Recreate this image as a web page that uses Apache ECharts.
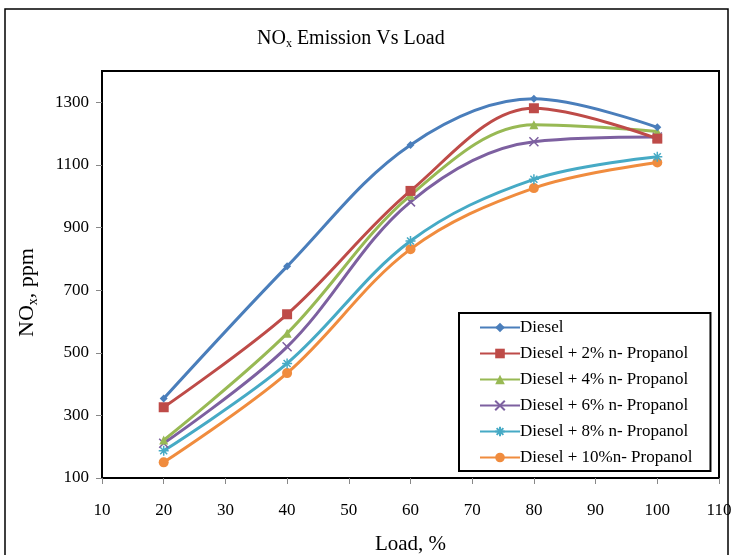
<!DOCTYPE html>
<html>
<head>
<meta charset="utf-8">
<script src="https://cdn.jsdelivr.net/npm/echarts@6/dist/echarts.min.js"></script>
<style>
  html, body { margin: 0; padding: 0; background: #fff; }
  #chart { width: 732px; height: 555px; }
</style>
</head>
<body>
<div id="chart"></div>
<script>
const loads = [20, 40, 60, 80, 100];
const seriesNames = ['Diesel', 'Diesel + 2% n- Propanol', 'Diesel + 4% n- Propanol', 'Diesel + 6% n- Propanol', 'Diesel + 8% n- Propanol', 'Diesel + 10%n- Propanol'];
const diesel = [354, 776, 1164, 1311, 1220];
const p2 = [326, 623, 1017, 1281, 1184];
const p4 = [221, 562, 1003, 1228, 1207];
const p6 = [211, 519, 982, 1174, 1189];
const p8 = [187, 466, 857, 1054, 1126];
const p10 = [150, 435, 831, 1026, 1108];
const yTicks = [100, 1400, 200];
const xTicks = [10, 110, 10];

const allValues = [diesel, p2, p4, p6, p8, p10];
const colors = ['#4a7ebb', '#be4b48', '#98b954', '#7d60a0', '#46aac5', '#f08c3e'];
const symbols = [
    'diamond',
    'rect',
    'triangle',
    'path://M-4,-4L4,4M-4,4L4,-4',
    'path://M0,-5L0,5M-5,0L5,0M-3.5,-3.5L3.5,3.5M-3.5,3.5L3.5,-3.5',
    'circle'
];
const sizes = [8, 10, 9, 9, 10, 10];
const serif = 'Liberation Serif';

const mychart = echarts.init(document.getElementById('chart'));
mychart.setOption({
    animation: false,
    textStyle: { fontFamily: serif },
    title: {
        text: '{a|NO}{s|x}{a| Emission Vs Load}',
        left: 252,
        top: 22,
        textStyle: {
            fontWeight: 'normal',
            rich: {
                a: { fontFamily: serif, fontSize: 20, color: '#000', fontWeight: 'normal' },
                s: { fontFamily: serif, fontSize: 12, color: '#000', fontWeight: 'normal', padding: [11, 0, 0, 0] }
            }
        }
    },
    graphic: [{
        type: 'rect',
        shape: { x: 5, y: 9, width: 723, height: 560 },
        style: { fill: 'none', stroke: '#000', lineWidth: 1.5 },
        silent: true
    }],
    legend: {
        orient: 'vertical',
        left: 459,
        top: 313,
        padding: [6, 18, 5, 20],
        itemGap: 9,
        itemWidth: 40,
        itemHeight: 12,
        borderColor: '#000',
        borderWidth: 2,
        backgroundColor: '#fff',
        textStyle: { fontFamily: serif, fontSize: 17, color: '#000', padding: [0, 0, 0, -5] },
        data: seriesNames
    },
    grid: {
        show: true,
        left: 102,
        right: 13,
        top: 71,
        bottom: 77,
        outerBoundsMode: 'none',
        borderColor: '#000',
        borderWidth: 2
    },
    xAxis: {
        type: 'value',
        min: xTicks[0],
        max: xTicks[1],
        interval: xTicks[2],
        name: 'Load, %',
        nameLocation: 'middle',
        nameGap: 56,
        nameTextStyle: { fontFamily: serif, fontSize: 21, color: '#000' },
        axisLine: { show: true, lineStyle: { color: '#000', width: 2 } },
        axisTick: { show: true, length: 6, lineStyle: { color: '#888' } },
        axisLabel: { fontFamily: serif, fontSize: 17, color: '#000', margin: 24 },
        splitLine: { show: false }
    },
    yAxis: {
        type: 'value',
        min: yTicks[0],
        max: yTicks[1],
        interval: yTicks[2],
        name: '{a|NO}{s|x}{a|, ppm}',
        nameLocation: 'middle',
        nameGap: 62,
        nameRotate: 90,
        nameTextStyle: {
            padding: [0, 36, 0, 0],
            rich: {
                a: { fontFamily: serif, fontSize: 22, color: '#000' },
                s: { fontFamily: serif, fontSize: 14, color: '#000', padding: [12, 0, 0, 0] }
            }
        },
        axisLine: { show: true, lineStyle: { color: '#000', width: 2 } },
        axisTick: { show: true, length: 6, lineStyle: { color: '#888' } },
        axisLabel: {
            fontFamily: serif, fontSize: 17, color: '#000', margin: 13, showMaxLabel: false,
            formatter: v => String(v)
        },
        splitLine: { show: false }
    },
    series: allValues.map((vals, i) => ({
        name: seriesNames[i],
        type: 'line',
        smooth: 0.35,
        data: vals.map((v, j) => [loads[j], v]),
        symbol: symbols[i],
        symbolSize: sizes[i],
        showAllSymbol: true,
        lineStyle: { color: colors[i], width: 3 },
        itemStyle: {
            color: colors[i],
            borderColor: colors[i],
            borderWidth: (i === 3 || i === 4) ? 1.5 : 0
        },
        z: 10 - i
    }))
});
</script>
</body>
</html>
